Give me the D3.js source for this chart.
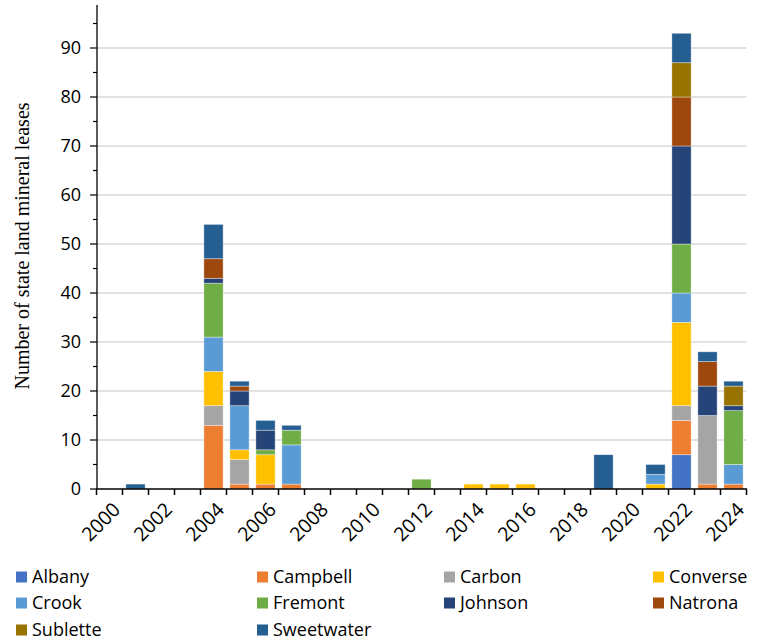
<!DOCTYPE html>
<html>
<head>
<meta charset="utf-8">
<script src="https://cdn.jsdelivr.net/npm/d3@7"></script>
<style>
  html, body { margin: 0; padding: 0; background: #fff; }
  svg { display: block; }
</style>
</head>
<body>
<div id="chart"></div>
<script>
// Wyoming state land mineral leases by county, 2000–2024
const years = d3.range(2000, 2025).map(String);
const counties = ["Albany", "Campbell", "Carbon", "Converse", "Crook", "Fremont", "Johnson", "Natrona", "Sublette", "Sweetwater"];
const colors = ["#4472C4", "#ED7D31", "#A5A5A5", "#FFC000", "#5B9BD5", "#70AD47", "#264478", "#9E480E", "#997300", "#255E91"];

// leases per year (2000 … 2024) for each county
const albany     = [0,0,0,0,0,0,0,0,0,0,0,0,0,0,0,0,0,0,0,0,0,0,7,0,0];
const campbell   = [0,0,0,0,13,1,1,1,0,0,0,0,0,0,0,0,0,0,0,0,0,0,7,1,1];
const carbon     = [0,0,0,0,4,5,0,0,0,0,0,0,0,0,0,0,0,0,0,0,0,0,3,14,0];
const converse   = [0,0,0,0,7,2,6,0,0,0,0,0,0,0,1,1,1,0,0,0,0,1,17,0,0];
const crook      = [0,0,0,0,7,9,0,8,0,0,0,0,0,0,0,0,0,0,0,0,0,2,6,0,4];
const fremont    = [0,0,0,0,11,0,1,3,0,0,0,0,2,0,0,0,0,0,0,0,0,0,10,0,11];
const johnson    = [0,0,0,0,1,3,4,0,0,0,0,0,0,0,0,0,0,0,0,0,0,0,20,6,1];
const natrona    = [0,0,0,0,4,1,0,0,0,0,0,0,0,0,0,0,0,0,0,0,0,0,10,5,0];
const sublette   = [0,0,0,0,0,0,0,0,0,0,0,0,0,0,0,0,0,0,0,0,0,0,7,0,4];
const sweetwater = [0,1,0,0,7,1,2,1,0,0,0,0,0,0,0,0,0,0,0,7,0,2,6,2,1];

const seriesValues = [albany, campbell, carbon, converse, crook, fremont, johnson, natrona, sublette, sweetwater];
const yTicks = [0, 10, 20, 30, 40, 50, 60, 70, 80, 90];
const xTickLabels = years.filter((y, i) => i % 2 === 0);

const W = 759, H = 642;
const svg = d3.select("#chart").append("svg").attr("width", W).attr("height", H);

const table = years.map((yr, i) => {
  const row = { year: yr };
  counties.forEach((c, k) => row[c] = seriesValues[k][i]);
  return row;
});

const x = d3.scaleBand().domain(years).range([96.5, 746.5]).paddingInner(0.26).paddingOuter(0.13);
const y = d3.scaleLinear().domain([0, 100]).range([489, -1]);
const color = d3.scaleOrdinal().domain(counties).range(colors);

const tickFont = "'Open Sans', 'DejaVu Sans', sans-serif";

// gridlines
svg.append("g")
  .selectAll("line").data(yTicks.filter(d => d > 0)).join("line")
  .attr("x1", 97).attr("x2", 746.5)
  .attr("y1", d => y(d)).attr("y2", d => y(d))
  .attr("stroke", "#d9d9d9").attr("stroke-width", 1.5);

// stacked bars
const stack = d3.stack().keys(counties);
const layers = stack(table);
svg.append("g")
  .selectAll("g").data(layers).join("g")
  .attr("fill", d => color(d.key))
  .selectAll("rect").data(d => d.filter(s => s[1] > s[0])).join("rect")
  .attr("x", d => x(d.data.year))
  .attr("width", x.bandwidth())
  .attr("y", d => y(d[1]))
  .attr("height", d => y(d[0]) - y(d[1]))
  .attr("stroke", "#ffffff").attr("stroke-opacity", 0.45).attr("stroke-width", 0.8);

// y axis
const yAxis = svg.append("g");
yAxis.append("line").attr("x1", 97).attr("x2", 97).attr("y1", 5).attr("y2", 489)
  .attr("stroke", "#000").attr("stroke-width", 1.3);
yAxis.selectAll("line.minor").data(d3.range(5, 100, 10)).join("line").attr("class", "minor")
  .attr("x1", 93).attr("x2", 97).attr("y1", d => y(d)).attr("y2", d => y(d))
  .attr("stroke", "#000").attr("stroke-width", 1.2);
yAxis.selectAll("line.major").data(yTicks).join("line").attr("class", "major")
  .attr("x1", 90).attr("x2", 97).attr("y1", d => y(d)).attr("y2", d => y(d))
  .attr("stroke", "#000").attr("stroke-width", 1.2);
yAxis.selectAll("text").data(yTicks).join("text")
  .attr("x", 81).attr("y", d => y(d)).attr("dy", "0.36em")
  .attr("text-anchor", "end").attr("font-family", tickFont).attr("font-size", 18)
  .attr("fill", "#000").text(d => d);

// x axis
const xAxis = svg.append("g");
xAxis.append("line").attr("x1", 96.5).attr("x2", 747).attr("y1", 489).attr("y2", 489)
  .attr("stroke", "#000").attr("stroke-width", 1.5);
const bounds = years.map(yr => x(yr) - x.step() * x.paddingInner() / 2).concat([746.5]);
xAxis.selectAll("line.tick").data(bounds).join("line").attr("class", "tick")
  .attr("x1", d => d).attr("x2", d => d).attr("y1", 489).attr("y2", 495)
  .attr("stroke", "#000").attr("stroke-width", 1.5);
xAxis.selectAll("text").data(xTickLabels).join("text")
  .attr("transform", d => `translate(${x(d) + x.bandwidth() / 2 + 7},${506}) rotate(-45)`)
  .attr("text-anchor", "end").attr("dy", "0.36em")
  .attr("font-family", tickFont).attr("font-size", 19.5).attr("fill", "#000")
  .text(d => d);

// y axis title
svg.append("text")
  .attr("transform", "translate(22,246) rotate(-90)")
  .attr("text-anchor", "middle").attr("dy", "0.35em")
  .attr("font-family", "'Liberation Serif', 'Times New Roman', serif").attr("font-size", 20)
  .attr("fill", "#000").text("Number of state land mineral leases");

// legend
const colX = [16, 257, 444, 653];
const rowY = [577, 603, 630];
const legend = svg.append("g").selectAll("g").data(counties).join("g")
  .attr("transform", (d, i) => `translate(${colX[i % 4]},${rowY[Math.floor(i / 4)]})`);
legend.append("rect").attr("x", 0).attr("y", -5.5).attr("width", 11).attr("height", 11)
  .attr("fill", d => color(d));
legend.append("text").attr("x", 16).attr("y", 0).attr("dy", "0.36em")
  .attr("font-family", tickFont).attr("font-size", 18).attr("fill", "#000")
  .text(d => d);
</script>
</body>
</html>
